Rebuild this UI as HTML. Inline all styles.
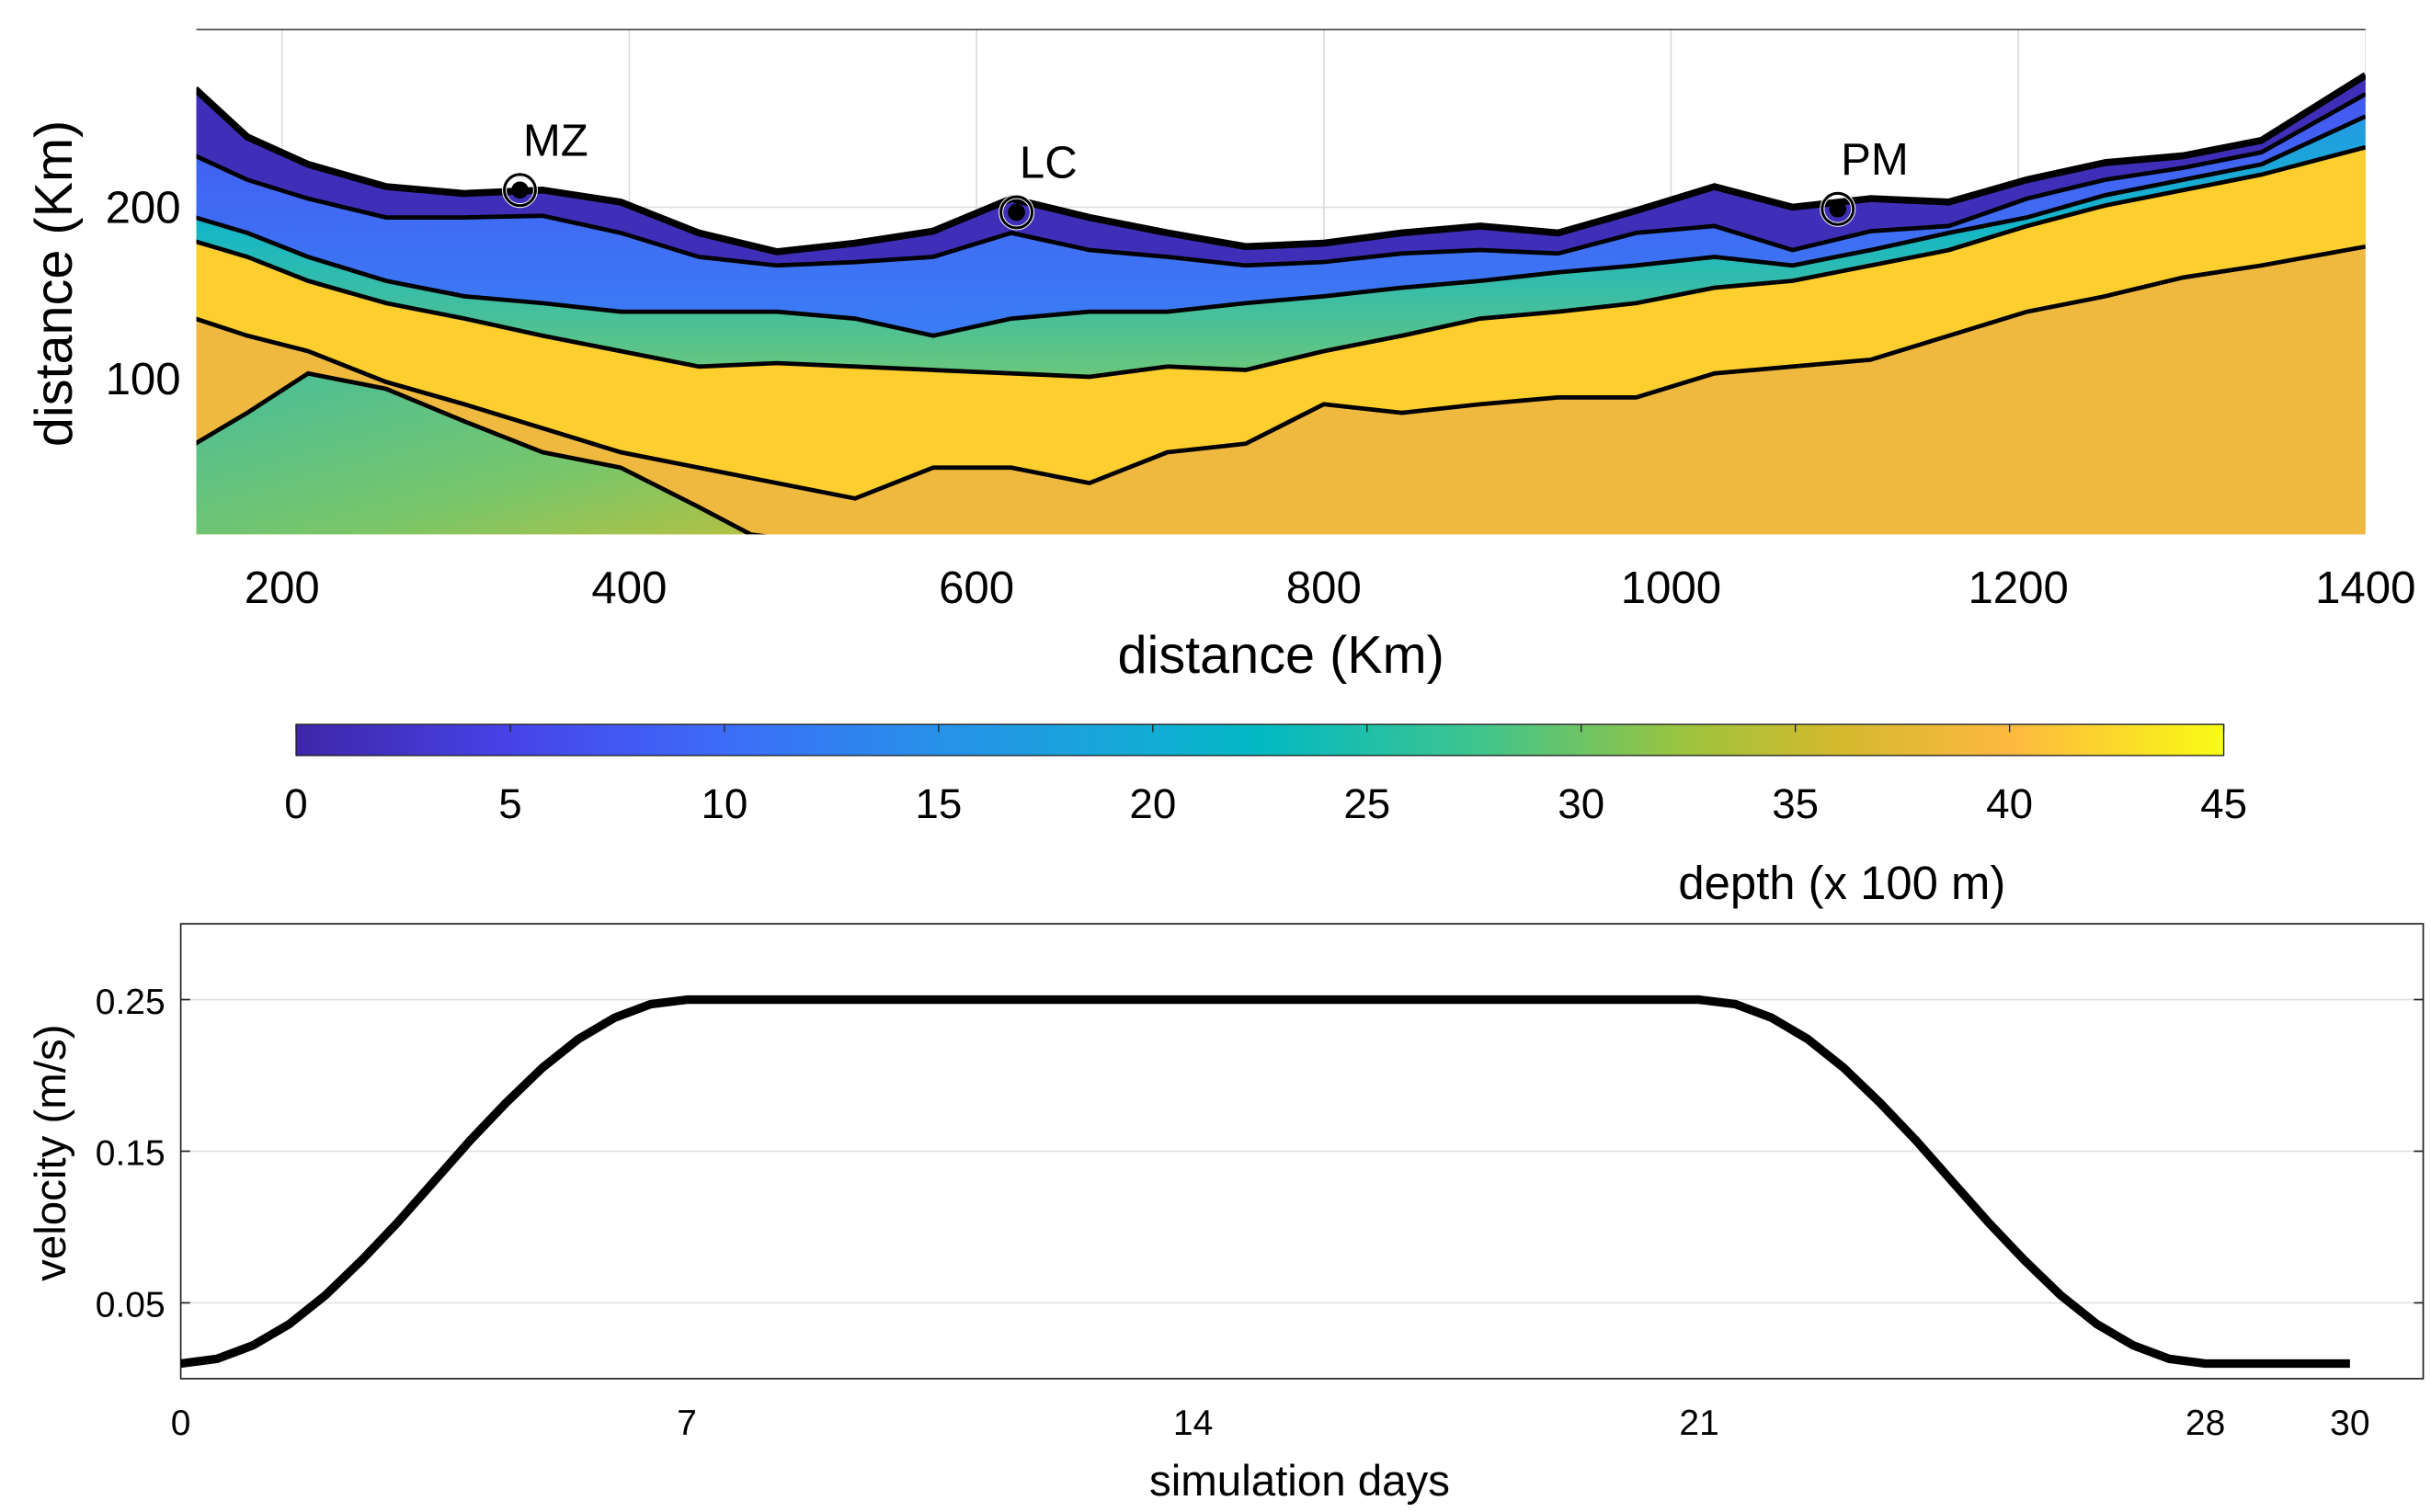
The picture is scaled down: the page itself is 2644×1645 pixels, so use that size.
<!DOCTYPE html>
<html><head><meta charset="utf-8"><style>
html,body{margin:0;padding:0;background:#fff;}
svg{display:block;font-family:"Liberation Sans",sans-serif;}
</style></head><body>
<svg id="fig" width="2644" height="1645" viewBox="0 0 1560 970.6" preserveAspectRatio="none" xmlns="http://www.w3.org/2000/svg">
<defs>
<clipPath id="clipTop"><rect x="126" y="19" width="1392" height="324"/></clipPath>
<linearGradient id="parula" x1="0" x2="1" y1="0" y2="0">
<stop offset="0" stop-color="#3e26a8"/><stop offset="0.111" stop-color="#4743e8"/>
<stop offset="0.222" stop-color="#3d6cf9"/><stop offset="0.333" stop-color="#2791e9"/>
<stop offset="0.444" stop-color="#13acd5"/><stop offset="0.5" stop-color="#02b9c3"/>
<stop offset="0.611" stop-color="#3dc58f"/><stop offset="0.722" stop-color="#9dc43d"/>
<stop offset="0.8" stop-color="#d4b92d"/><stop offset="0.889" stop-color="#fdb840"/>
<stop offset="1" stop-color="#f9fb15"/></linearGradient>
<linearGradient id="cyanGrad" x1="0" x2="0" y1="0" y2="1">
<stop offset="0" stop-color="#2a8ff0"/><stop offset="0.5" stop-color="#12b6c8"/><stop offset="1" stop-color="#6cc77a"/></linearGradient>
<linearGradient id="blueGrad" x1="0" x2="0" y1="0" y2="1">
<stop offset="0" stop-color="#4556f2"/><stop offset="1" stop-color="#3a7df5"/></linearGradient>
<linearGradient id="greenGrad" x1="0" x2="1" y1="0" y2="1">
<stop offset="0" stop-color="#3fbea0"/><stop offset="0.6" stop-color="#72c76c"/><stop offset="1" stop-color="#b9c13c"/></linearGradient>
</defs>
<g id="topChart"></g>
<g id="cbar"></g>
<g id="botChart"></g>
</svg>
<script>
const xsKm = [150,180,215,260,305,350,395,440,485,530,575,620,665,710,755,800,845,890,935,980,1025,1070,1115,1160,1205,1250,1295,1340,1400];
const surfaceKm = [269,241,225,212,208,210,203,185,174,179,186,205,194,185,177,179,185,189,185,198,212,200,205,203,216,226,230,239,277];
const purpleKm = [230,216,205,194,194,195,185,171,166,168,171,185,175,171,166,168,173,175,173,185,189,175,186,189,205,216,223,232,266];
const blueKm = [194,185,171,157,148,144,139,139,139,135,125,135,139,139,144,148,153,157,162,166,171,166,175,185,194,207,216,225,253];
const yellowTopKm = [180,171,157,144,135,125,116,107,109,107,105,103,101,107,105,116,125,135,139,144,153,157,166,175,189,201,210,219,235];
const yellowBotKm = [135,125,116,98,85,71,57,48,39,30,48,48,39,57,62,85,80,85,89,89,103,107,111,125,139,148,159,166,177];
const greenXKm = [150,180,215,260,305,350,395,440,470,500];
const greenKm = [62,80,103,94,75,57,48,25,9,5];
const stationNames = ["MZ","LC","PM"];
const stationX = [337,623,1096];
const stationY = [210,197,199];
const xTicks = [200,400,600,800,1000,1200,1400];
const yTicks = [100,200];
const cbTicks = [0,5,10,15,20,25,30,35,40,45];
const days = [0,0.5,1,1.5,2,2.5,3,3.5,4,4.5,5,5.5,6,6.5,7,14,21,21.5,22,22.5,23,23.5,24,24.5,25,25.5,26,26.5,27,27.5,28,30];
const velocity = [0.010,0.013,0.022,0.036,0.055,0.078,0.103,0.130,0.157,0.182,0.205,0.224,0.238,0.247,0.250,0.250,0.250,0.247,0.238,0.224,0.205,0.182,0.157,0.130,0.103,0.078,0.055,0.036,0.022,0.013,0.010,0.010];
const dayTicks = [0,7,14,21,28,30];
const velTicks = [0.05,0.15,0.25];

const NS="http://www.w3.org/2000/svg";
function mk(tag,attrs,parent){const el=document.createElementNS(NS,tag);for(const k in attrs)el.setAttribute(k,attrs[k]);parent.appendChild(el);return el;}
const X0=126,X1=1518,Y0=19,Y1=343;
const xs=v=>181+(v-200)*(1518-181)/1200;
const ys=v=>133-(v-200)*1.1;
const topG=document.getElementById('topChart');
const gt=mk('g',{'clip-path':'url(#clipTop)'},topG);
mk('rect',{x:X0,y:Y0,width:X1-X0,height:Y1-Y0,fill:'#fff'},gt);
xTicks.forEach(t=>{const l=mk('line',{x1:xs(t),x2:xs(t),y1:Y0,y2:Y1,stroke:'#dcdcdc','stroke-width':1},gt);

});
yTicks.forEach(t=>{const l=mk('line',{x1:X0,x2:X1,y1:ys(t),y2:ys(t),stroke:'#dcdcdc','stroke-width':1},gt);

});
function line(arr,xa){return arr.map((v,i)=>(i?'L':'M')+xs((xa||xsKm)[i]).toFixed(1)+','+ys(v).toFixed(1)).join(' ');}
function rev(arr,xa){return arr.map((v,i)=>[xs((xa||xsKm)[i]),ys(v)]).reverse().map(p=>'L'+p[0].toFixed(1)+','+p[1].toFixed(1)).join(' ');}
function band(a,b,fill,name){const p=mk('path',{d:line(a)+' '+rev(b)+' Z',fill:fill},gt);

return p;}
const floorKm=xsKm.map(()=>0);
band(surfaceKm,floorKm,'#efb93f','deep-region');
const gp=mk('path',{d:line(greenKm,greenXKm)+' L'+xs(500)+','+Y1+' L'+X0+','+Y1+' Z',fill:'url(#greenGrad)',opacity:0.95},gt);


band(yellowTopKm,yellowBotKm,'#fcce2e','yellow-band');
band(surfaceKm,yellowTopKm,'url(#cyanGrad)','cyan-band');
band(surfaceKm,blueKm,'url(#blueGrad)','blue-band');
band(surfaceKm,purpleKm,'#3f2fb8','purple-band');
[[yellowBotKm,'contour-40'],[yellowTopKm,'contour-33'],[blueKm,'contour-15'],[purpleKm,'contour-5']].forEach(c=>{const p=mk('path',{d:line(c[0]),fill:'none',stroke:'#000','stroke-width':2.8},gt);

});
const gc=mk('path',{d:line(greenKm,greenXKm),fill:'none',stroke:'#000','stroke-width':2.8},gt);


const sf=mk('path',{d:line(surfaceKm),fill:'none',stroke:'#000','stroke-width':4.5},gt);


mk('line',{x1:X0,x2:X1,y1:Y0,y2:Y0,stroke:'#222','stroke-width':0.8},topG);
stationNames.forEach((n,i)=>{
 const g=mk('g',{},topG);
 
 
 mk('circle',{cx:xs(stationX[i]),cy:ys(stationY[i]),r:10,fill:'none',stroke:'#fff','stroke-width':3},g);
 mk('circle',{cx:xs(stationX[i]),cy:ys(stationY[i]),r:10,fill:'none',stroke:'#000','stroke-width':1.8},g);
 mk('circle',{cx:xs(stationX[i]),cy:ys(stationY[i]),r:5.5,fill:'#000'},g);
 const t=mk('text',{x:xs(stationX[i])+2,y:ys(stationY[i])-22,'font-size':29,'text-anchor':'start'},g);t.textContent=n;
});
xTicks.forEach(t=>{const tl=mk('text',{x:xs(t),y:387,'font-size':29,'text-anchor':'middle'},topG);tl.textContent=t;

});
yTicks.forEach(t=>{const tl=mk('text',{x:116,y:ys(t)+10,'font-size':29,'text-anchor':'end'},topG);tl.textContent=t;

});
let lab=mk('text',{x:822,y:432,'font-size':34,'text-anchor':'middle'},topG);lab.textContent='distance (Km)';


lab=mk('text',{x:0,y:0,'font-size':34,'text-anchor':'middle',transform:'translate(46,182) rotate(-90)'},topG);lab.textContent='distance (Km)';


const cb=document.getElementById('cbar');
const cx=v=>190+v*(1427-190)/45;
mk('rect',{x:190,y:465,width:1237,height:20,fill:'url(#parula)',stroke:'#222','stroke-width':0.8},cb);
cbTicks.forEach(t=>{mk('line',{x1:cx(t),x2:cx(t),y1:465,y2:470,stroke:'#222','stroke-width':0.8},cb);
 const l=mk('text',{x:cx(t),y:525,'font-size':27,'text-anchor':'middle'},cb);l.textContent=t;
 
 });
lab=mk('text',{x:1182,y:577,'font-size':30,'text-anchor':'middle'},cb);lab.textContent='depth (x 100 m)';


const bot=document.getElementById('botChart');
const BX0=116,BX1=1555,BY0=593,BY1=885;
const dx=v=>116+v*(1508-116)/30;
const vy=v=>885-v*(885-593)/0.3;
mk('rect',{x:BX0,y:BY0,width:BX1-BX0,height:BY1-BY0,fill:'#fff'},bot);
velTicks.forEach(t=>{const l=mk('line',{x1:BX0,x2:BX1,y1:vy(t),y2:vy(t),stroke:'#e0e0e0','stroke-width':1},bot);
 
 
 mk('line',{x1:BX0,x2:BX0+6,y1:vy(t),y2:vy(t),stroke:'#222'},bot);mk('line',{x1:BX1-6,x2:BX1,y1:vy(t),y2:vy(t),stroke:'#222'},bot);
 const tl=mk('text',{x:106,y:vy(t)+9,'font-size':23,'text-anchor':'end'},bot);tl.textContent=t;
 
 });
dayTicks.forEach(t=>{const tl=mk('text',{x:dx(t),y:921,'font-size':23,'text-anchor':'middle'},bot);tl.textContent=t;
 
 });
mk('rect',{x:BX0,y:BY0,width:BX1-BX0,height:BY1-BY0,fill:'none',stroke:'#222','stroke-width':1},bot);
const vp=mk('path',{d:days.map((d,i)=>(i?'L':'M')+dx(d).toFixed(1)+','+vy(velocity[i]).toFixed(1)).join(' '),fill:'none',stroke:'#000','stroke-width':5.5,'stroke-linejoin':'round'},bot);


lab=mk('text',{x:834,y:960,'font-size':28,'text-anchor':'middle'},bot);lab.textContent='simulation days';


lab=mk('text',{x:0,y:0,'font-size':28,'text-anchor':'middle',transform:'translate(42,740) rotate(-90)'},bot);lab.textContent='velocity (m/s)';


</script>
</body></html>
